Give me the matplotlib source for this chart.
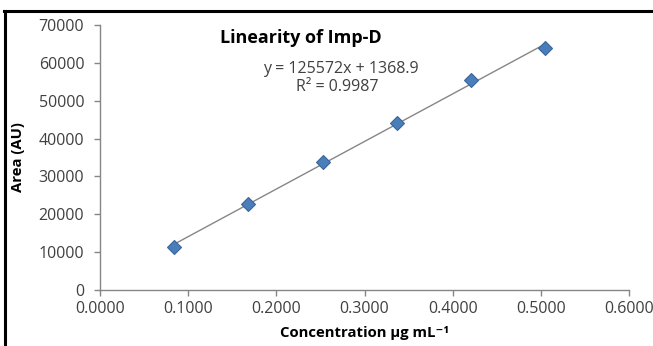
import numpy as np
import matplotlib.pyplot as plt
from matplotlib.lines import Line2D

plt.rcParams['font.family'] = ['Open Sans', 'DejaVu Sans']

# calibration data for Imp-D
conc = [0.0842, 0.1684, 0.2526, 0.3368, 0.4210, 0.5052]
area = [11400, 22800, 33900, 44000, 55400, 63900]
xticks = [0.0, 0.1, 0.2, 0.3, 0.4, 0.5, 0.6]
yticks = [0, 10000, 20000, 30000, 40000, 50000, 60000, 70000]

fig = plt.figure(figsize=(6.53, 3.46), dpi=100)
ax = fig.add_axes([100/653, 1 - 290/346, 529/653, 265/346])

# linear trendline over the measured range
coef = np.polyfit(conc, area, 1)
xs = np.array([conc[0], conc[-1]])
ax.plot(xs, np.polyval(coef, xs), color='#868686', lw=1, zorder=2)
ax.plot(conc, area, 'D', ms=7, color='#4A7EBB', mec='#3B6699', mew=0.8, zorder=3)

ax.set_xlim(0, 0.6)
ax.set_ylim(0, 70000)
ax.set_xticks(xticks)
ax.set_yticks(yticks)
ax.set_xticklabels(['%.4f' % v for v in xticks])
ax.set_yticklabels([str(v) for v in yticks])

for s in ['top', 'right']:
    ax.spines[s].set_visible(False)
for s in ['left', 'bottom']:
    ax.spines[s].set_color('#868686')
    ax.spines[s].set_linewidth(1)
ax.tick_params(direction='out', length=4.3, width=1, color='#868686',
               labelcolor='#404040', labelsize=11.5)
ax.tick_params(axis='y', pad=7)
ax.tick_params(axis='x', pad=3.5)

ax.set_xlabel('Concentration μg mL\u207b\u00b9', fontsize=10.7, fontweight='bold')
ax.set_ylabel('Area (AU)', fontsize=10.7, fontweight='bold')
ax.xaxis.label.set_va('center')
ax.yaxis.label.set_va('center')
ax.xaxis.set_label_coords(0.5, (290 - 333) / 265)
ax.yaxis.set_label_coords((18 - 100) / 529, 0.5)

ax.text(0.38, 0.95, 'Linearity of Imp-D', transform=ax.transAxes, ha='center',
        va='center', fontsize=13, fontweight='bold')
ax.text(0.455, 0.835, 'y = 125572x + 1368.9', transform=ax.transAxes, ha='center',
        va='center', fontsize=11.5, color='#404040')
ax.text(0.448, 0.765, 'R² = 0.9987', transform=ax.transAxes, ha='center',
        va='center', fontsize=11.5, color='#404040')

# black frame on the left and top edges
fig.add_artist(Line2D([5/653, 5/653], [0, 1 - 11/346], color='black', lw=2.2,
                      transform=fig.transFigure))
fig.add_artist(Line2D([4/653, 1], [1 - 11/346, 1 - 11/346], color='black', lw=2.2,
                      transform=fig.transFigure))

fig.savefig('out.png', dpi=100)
